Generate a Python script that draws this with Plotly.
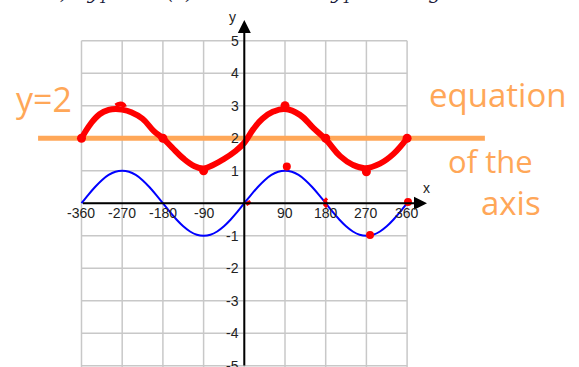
import plotly.graph_objects as go

# ---- data -------------------------------------------------------------
# sampled angle grid (degrees) for the printed curve y = sin(x)
angles = [-360, -345, -330, -315, -300, -285, -270, -255, -240, -225, -210, -195,
          -180, -165, -150, -135, -120, -105, -90, -75, -60, -45, -30, -15,
          0, 15, 30, 45, 60, 75, 90, 105, 120, 135, 150, 165,
          180, 195, 210, 225, 240, 255, 270, 285, 300, 315, 330, 345, 360]
sine_vals = [0.0, 0.26, 0.5, 0.71, 0.87, 0.97, 1.0, 0.97, 0.87, 0.71, 0.5, 0.26,
             0.0, -0.26, -0.5, -0.71, -0.87, -0.97, -1.0, -0.97, -0.87, -0.71, -0.5, -0.26,
             0.0, 0.26, 0.5, 0.71, 0.87, 0.97, 1.0, 0.97, 0.87, 0.71, 0.5, 0.26,
             0.0, -0.26, -0.5, -0.71, -0.87, -0.97, -1.0, -0.97, -0.87, -0.71, -0.5, -0.26, 0.0]

# hand-sketched curve y1 = sin(x) + 2
sketch_x = [-360, -340, -320, -300, -285, -270, -250, -225, -200, -180, -160, -135,
            -110, -90, -70, -45, -20, 0, 20, 40, 64, 90, 123, 153, 181, 212, 240,
            267, 300, 330, 360]
sketch_y = [2.0, 2.44, 2.74, 2.87, 2.9, 2.88, 2.8, 2.6, 2.22, 2.0, 1.72, 1.38,
            1.14, 1.07, 1.17, 1.36, 1.6, 1.86, 2.28, 2.6, 2.82, 2.9, 2.72, 2.31, 1.95,
            1.45, 1.18, 1.08, 1.22, 1.52, 2.0]

# pen dots on the sketch
sketch_dot_x = [-360, -180, -90, 90, 180, 270, 360]
sketch_dot_y = [2.0, 2.0, 1.0, 3.0, 2.0, 0.97, 2.0]
# small pen tick above the left peak
hook_x = [-284, -276, -268, -265]
hook_y = [3.0, 3.05, 3.03, 2.96]
# pen marks near the printed curve
mark_dot_x = [94, 278, 362]
mark_dot_y = [1.13, -0.98, 0.04]
mark0_x = [4, 9, 14]
mark0_y = [-0.03, 0.03, 0.05]
mark180_x = [183, 178, 181, 178, 183]
mark180_y = [0.15, 0.08, 0.02, -0.05, -0.12]

# grid and axis labels
x_ticks = [-360, -270, -180, -90, 90, 180, 270, 360]
y_ticks = [-5, -4, -3, -2, -1, 1, 2, 3, 4, 5]
x_grid = [-360, -270, -180, -90, 0, 90, 180, 270, 360]
y_grid = [-5, -4, -3, -2, -1, 0, 1, 2, 3, 4, 5]

axis_level = 2  # equation of the axis: y = 2

# ---- figure -----------------------------------------------------------
X_RANGE = [-540.2, 740.1]
Y_RANGE = [-5.04, 6.255]
GRID = "#c8c8c8"
ORANGE = "#ffa758"
RED = "#ff0000"
BLUE = "#0000ff"

fig = go.Figure()

shapes = []
for gx in x_grid:
    shapes.append(dict(type="line", xref="x", yref="y", x0=gx, x1=gx, y0=Y_RANGE[0], y1=5,
                       line=dict(color=GRID, width=1.5), layer="below"))
for gy in y_grid:
    shapes.append(dict(type="line", xref="x", yref="y", x0=-360, x1=360, y0=gy, y1=gy,
                       line=dict(color=GRID, width=1.5), layer="below"))

# printed curve
fig.add_trace(go.Scatter(x=angles, y=sine_vals, mode="lines", line_shape="spline",
                         line=dict(color=BLUE, width=2), hoverinfo="skip"))

# orange axis-of-the-curve line
fig.add_trace(go.Scatter(x=[-456, 532], y=[axis_level, axis_level], mode="lines",
                         line=dict(color=ORANGE, width=5), hoverinfo="skip"))

# hand sketch
fig.add_trace(go.Scatter(x=sketch_x, y=sketch_y, mode="lines",
                         line=dict(color=RED, width=6, shape="spline", smoothing=1.2),
                         hoverinfo="skip"))
fig.add_trace(go.Scatter(x=hook_x, y=hook_y, mode="lines", line_shape="spline",
                         line=dict(color=RED, width=5), hoverinfo="skip"))
fig.add_trace(go.Scatter(x=sketch_dot_x, y=sketch_dot_y, mode="markers",
                         marker=dict(color=RED, size=9), hoverinfo="skip"))
fig.add_trace(go.Scatter(x=mark_dot_x, y=mark_dot_y, mode="markers",
                         marker=dict(color=RED, size=8), hoverinfo="skip"))
fig.add_trace(go.Scatter(x=mark0_x, y=mark0_y, mode="lines",
                         line=dict(color=RED, width=4), hoverinfo="skip"))
fig.add_trace(go.Scatter(x=mark180_x, y=mark180_y, mode="lines",
                         line=dict(color=RED, width=3), hoverinfo="skip"))

annotations = []
# axes with arrowheads
annotations.append(dict(x=404, y=0, ax=-360, ay=0, xref="x", yref="y", axref="x", ayref="y",
                        text="", showarrow=True, arrowhead=2, arrowsize=1.3, arrowwidth=2,
                        arrowcolor="black"))
annotations.append(dict(x=0, y=5.64, ax=0, ay=Y_RANGE[0], xref="x", yref="y", axref="x",
                        ayref="y", text="", showarrow=True, arrowhead=2, arrowsize=1.3,
                        arrowwidth=2, arrowcolor="black"))

tick_font = dict(family="Liberation Sans, Arial", size=14, color="#222222")
for t in x_ticks:
    annotations.append(dict(x=t, y=-0.3, xref="x", yref="y", text=str(t), showarrow=False,
                            xanchor="center", yanchor="middle", font=tick_font))
for t in y_ticks:
    annotations.append(dict(x=-8, y=t, xref="x", yref="y", text=str(t), showarrow=False,
                            xanchor="right", yanchor="middle", font=tick_font))
annotations.append(dict(x=403, y=0.47, xref="x", yref="y", text="x", showarrow=False,
                        font=tick_font))
annotations.append(dict(x=-25, y=5.73, xref="x", yref="y", text="y", showarrow=False,
                        font=tick_font))

# question line above the grid
annotations.append(dict(x=46 / 579, y=1 - 8 / 367, xref="paper", yref="paper",
                        text="b)   y<sub>1</sub> = sin(x) + 2.  Sketch y<sub>1</sub> on the grid below.",
                        showarrow=False, xanchor="left", yanchor="bottom",
                        font=dict(family="DejaVu Serif", size=20, color="#1a1a3a",
                                  style="italic")))

# handwritten notes
annotations.append(dict(x=-443, y=3.22, xref="x", yref="y", text="y=2", showarrow=False,
                        font=dict(family="Open Sans", size=34, color=ORANGE)))
annotations.append(dict(x=560, y=3.35, xref="x", yref="y", text="equation", showarrow=False,
                        font=dict(family="Open Sans", size=33, color=ORANGE)))
annotations.append(dict(x=545, y=1.3, xref="x", yref="y", text="of the", showarrow=False,
                        font=dict(family="Open Sans", size=31, color=ORANGE)))
annotations.append(dict(x=590, y=0.02, xref="x", yref="y", text="axis", showarrow=False,
                        font=dict(family="Open Sans", size=33, color=ORANGE)))

fig.update_layout(
    width=579, height=367,
    margin=dict(l=0, r=0, t=0, b=0),
    paper_bgcolor="white", plot_bgcolor="white",
    showlegend=False,
    xaxis=dict(range=X_RANGE, visible=False, fixedrange=True),
    yaxis=dict(range=Y_RANGE, visible=False, fixedrange=True),
    shapes=shapes,
    annotations=annotations,
)

fig.write_html("out.html")
